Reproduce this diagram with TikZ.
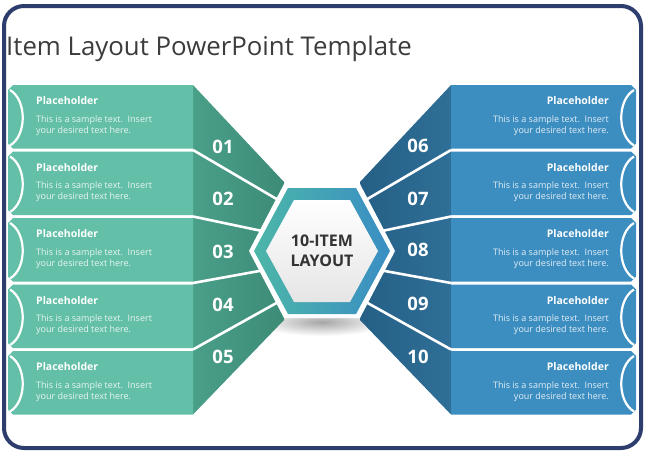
\documentclass[tikz,border=0pt]{standalone}
\usepackage{fontspec}
\setmainfont{Open Sans}
\definecolor{tealL}{HTML}{63BFA8}
\definecolor{tealD}{HTML}{4A9F89}
\definecolor{tealDD}{HTML}{3C8B77}
\definecolor{blueL}{HTML}{3C8DC0}
\definecolor{blueD}{HTML}{2F6F97}
\definecolor{blueDD}{HTML}{255F85}
\definecolor{ringL}{HTML}{4CB6A8}
\definecolor{ringR}{HTML}{3A8EC4}
\definecolor{frameC}{HTML}{2C3D6E}
\definecolor{titleC}{HTML}{3C3C3C}
\definecolor{hexText}{HTML}{333333}
\tikzset{
  sep/.style={white, line width=2.6pt},
  arcline/.style={white, line width=2.2pt},
  headL/.style={anchor=west, text=white, font=\fontsize{10.5}{12}\bfseries\selectfont, inner sep=0},
  bodyL/.style={anchor=west, font=\fontsize{9}{10}\selectfont, inner sep=0},
  headR/.style={anchor=east, text=white, font=\fontsize{10.5}{12}\bfseries\selectfont, inner sep=0},
  bodyR/.style={anchor=east, font=\fontsize{9}{10}\selectfont, inner sep=0},
  num/.style={text=white, font=\fontsize{18.5}{20}\bfseries\selectfont, inner sep=0}
}
\begin{document}
\begin{tikzpicture}[x=1pt,y=-1pt]
\useasboundingbox (0,0) rectangle (646,455);
\fill[white] (0,0) rectangle (646,455);
% frame
\draw[frameC, line width=4pt, fill=white, rounded corners=20pt] (4,6) rectangle (641,448);
% title
\node[anchor=base west, inner sep=0, text=titleC, font=\fontsize{25.8}{30}\selectfont] (title) at (6,55) {Item Layout PowerPoint Template};
% shadow under hexagon
\shade[inner color=black!35, outer color=white] (322,322) ellipse (66 and 14);
% dark side regions
\shade[left color=tealD, right color=tealDD] (193,85) -- (284,182) -- (284,320) -- (193,414.5) -- cycle;
\shade[left color=blueDD, right color=blueD] (451,85) -- (360,182) -- (360,320) -- (451,414.5) -- cycle;
% bars
\foreach \i/\ln/\rn in {0/01/06,1/02/07,2/03/08,3/04/09,4/05/10}{
  \pgfmathsetmacro\btop{85+66.5*\i}
  \pgfmathsetmacro\bbot{\btop+63.5}
  \fill[tealL] (13,\btop) -- (193,\btop) -- (193,\bbot) -- (13,\bbot) -- (8,\bbot-5) -- (8,\btop+5) -- cycle;
  \draw[arcline] (10,\btop+5) .. controls (27,\btop+15) and (27,\bbot-13) .. (10,\bbot-3);
  \fill[blueL] (631,\btop) -- (451,\btop) -- (451,\bbot) -- (631,\bbot) -- (636,\bbot-5) -- (636,\btop+5) -- cycle;
  \draw[arcline] (634,\btop+5) .. controls (617,\btop+15) and (617,\bbot-13) .. (634,\bbot-3);
  \node[headL] (lh\i) at (36,\btop+16) {Placeholder};
  \node[bodyL, text=white!85!tealL] (lb\i) at (36,\btop+35) {This is a sample text.\ \ Insert};
  \node[bodyL, text=white!85!tealL] (lc\i) at (36,\btop+46) {your desired text here.};
  \node[headR] (rh\i) at (609,\btop+16) {Placeholder};
  \node[bodyR, text=white!85!blueL] (rb\i) at (609,\btop+35) {This is a sample text.\ \ Insert};
  \node[bodyR, text=white!85!blueL] (rc\i) at (609,\btop+46) {your desired text here.};
}
% separators
\draw[sep] (193,150) -- (280,201);
\draw[sep] (193,216.5) -- (262,231);
\draw[sep] (193,283) -- (262,270.5);
\draw[sep] (193,349.5) -- (280,301);
\draw[sep] (451,150) -- (364,201);
\draw[sep] (451,216.5) -- (382,231);
\draw[sep] (451,283) -- (382,270.5);
\draw[sep] (451,349.5) -- (364,301);
% numbers
\node[num] (n01) at (223,147) {01};
\node[num] (n02) at (223,199) {02};
\node[num] (n03) at (223,252) {03};
\node[num] (n04) at (223,305) {04};
\node[num] (n05) at (223,357) {05};
\node[num] (n06) at (418,146) {06};
\node[num] (n07) at (418,199) {07};
\node[num] (n08) at (418,250) {08};
\node[num] (n09) at (418,304) {09};
\node[num] (n10) at (418,357) {10};
% hexagon
\fill[white] (249,251) -- (284,184) -- (360,184) -- (395,251) -- (360,318) -- (284,318) -- cycle;
\shade[left color=ringL, right color=ringR] (254,251) -- (288,188) -- (356,188) -- (390,251) -- (356,314) -- (288,314) -- cycle;
\shade[top color=white, bottom color=black!10] (266,251) -- (294,200) -- (350,200) -- (378,251) -- (350,302) -- (294,302) -- cycle;
\node[align=center, text=hexText, font=\fontsize{16}{19.5}\bfseries\selectfont, inner sep=0] (center) at (322,251) {10-ITEM\\LAYOUT};
\end{tikzpicture}
\end{document}
